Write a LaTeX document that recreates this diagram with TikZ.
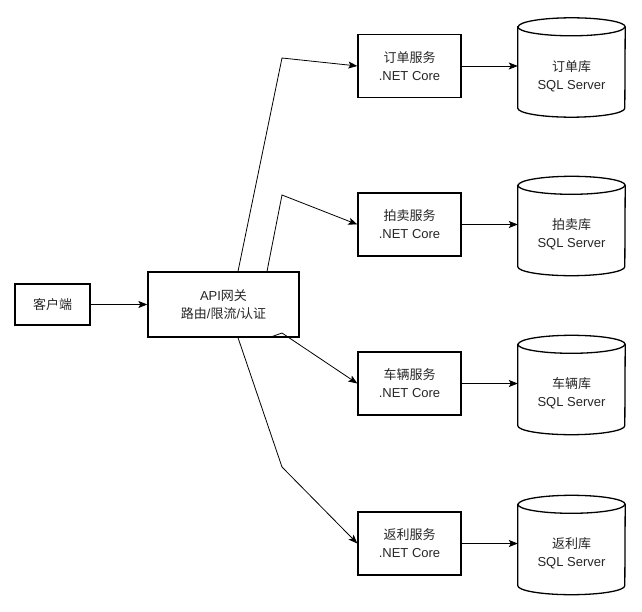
\documentclass[tikz,border=0pt]{standalone}
\usepackage{fontspec}
\setmainfont{Liberation Sans}
\newfontfamily\cjk{Noto Sans CJK SC}
\usetikzlibrary{arrows.meta,positioning}

\begin{document}
\begin{tikzpicture}[
            x=1pt, y=-1pt,
            box/.style={
                draw, line width=1.3pt, fill=white, align=center,
                inner sep=0pt, text=black!85,
                font=\fontsize{13}{18}\selectfont
            },
            svcbox/.style={box, minimum width=103pt, minimum height=63pt},
            dbnode/.style={minimum width=107pt, minimum height=99pt, inner sep=0pt},
            dbtext/.style={align=center, inner sep=0pt, text=black!85,
                font=\fontsize{13}{18}\selectfont},
            link/.style={line width=0.8pt, -{Stealth[length=9pt,width=7pt,inset=2pt]}}
            ]

            \useasboundingbox (0,0) rectangle (642,612);

            \node[box, minimum width=75pt, minimum height=41pt] (client) at (52.5,304.5) {{\cjk 客户端}};
            \node[box, minimum width=151pt, minimum height=65pt] (gw) at (223.5,304.5) {API{\cjk 网关}\\{\cjk 路由}/{\cjk 限流}/{\cjk 认证}};

            \foreach \n/\y/\name in {ord/66/订单, auc/224.5/拍卖, car/383.5/车辆, reb/543.5/返利} {
                \node[svcbox] (svc\n) at (409.5,\y) {{\cjk \name{}服务}\\.NET Core};
                \node[dbnode] (db\n) at (571.5,{\y+1.5}) {};
                % cylinder outline
                \draw[line width=1.3pt, fill=white]
                    ([yshift=-9pt]db\n.north west) -- ([yshift=9pt]db\n.south west)
                    arc[start angle=180, end angle=360, x radius=53.5pt, y radius=9pt]
                    -- ([yshift=-9pt]db\n.north east)
                    arc[start angle=0, end angle=180, x radius=53.5pt, y radius=9pt] -- cycle;
                \draw[line width=1.3pt] ([yshift=-9pt]db\n.north west)
                    arc[start angle=180, end angle=360, x radius=53.5pt, y radius=9pt];
                \node[dbtext] (dbt\n) at ([yshift=-8.5pt]db\n.center) {{\cjk \name{}库}\\SQL Server};
                \draw[link] (svc\n.east) -- (svc\n.east -| db\n.west);
            }

            \coordinate (b1) at (282,58);
            \coordinate (b2) at (282,195);
            \coordinate (b3) at (282,333);
            \coordinate (b4) at (282,467);

            \draw[link] (client) -- (gw);
            \draw[link] ([xshift=14.5pt]gw.north) -- (b1) -- (svcord.west);
            \draw[link] ([xshift=43.5pt]gw.north) -- (b2) -- (svcauc.west);
            \draw[link] ([xshift=45.5pt]gw.south) -- (b3) -- (svccar.west);
            \draw[link] ([xshift=14.5pt]gw.south) -- (b4) -- (svcreb.west);

        \end{tikzpicture}
\end{document}
